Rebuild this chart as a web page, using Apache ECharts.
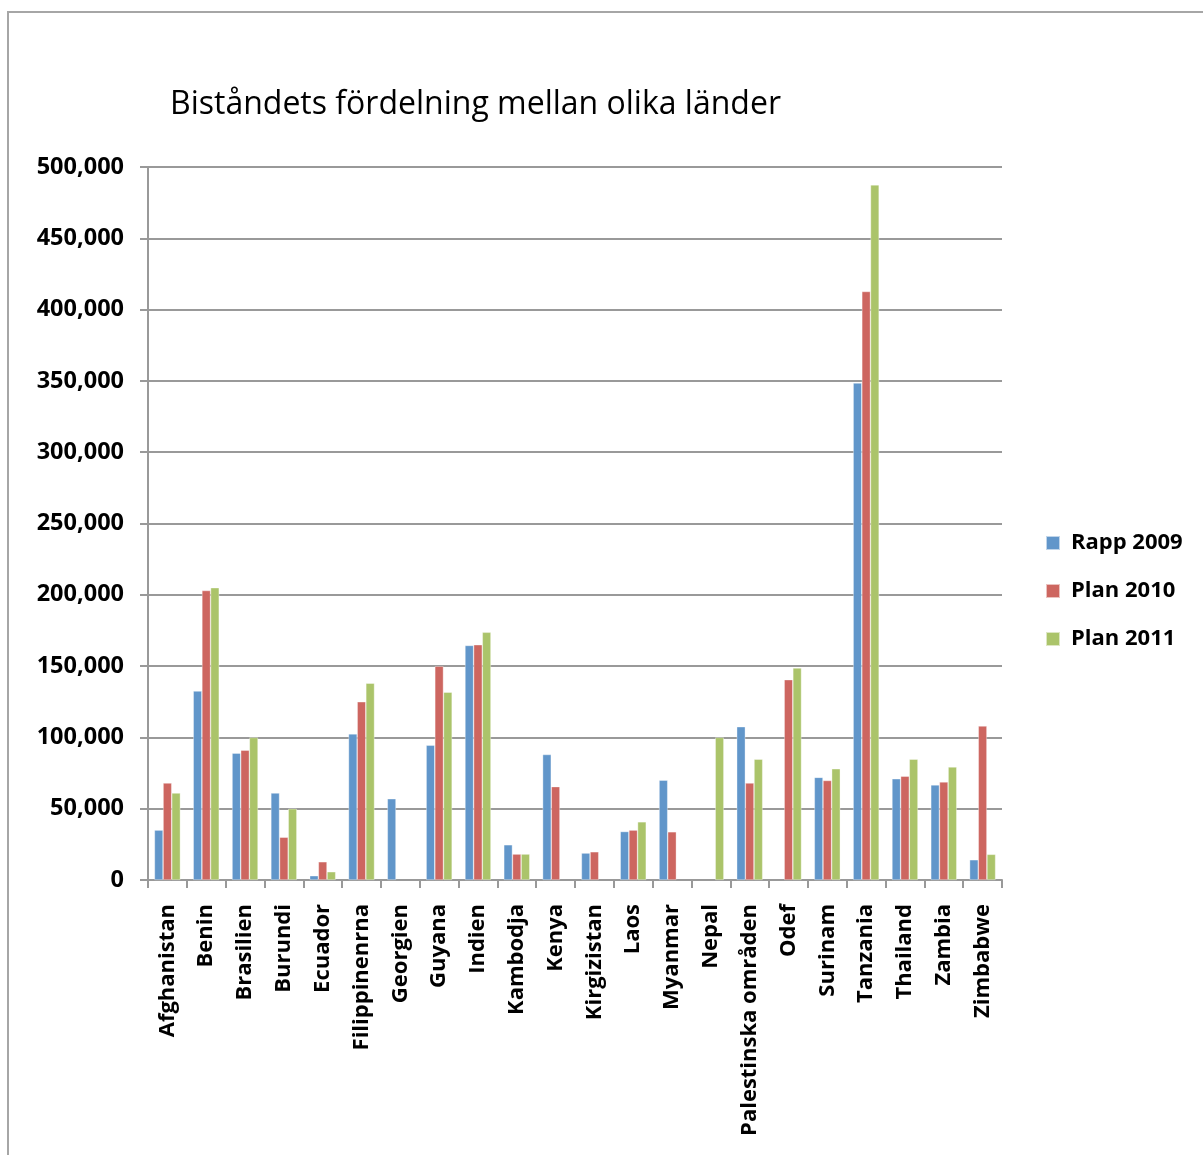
<!DOCTYPE html>
<html><head><meta charset="utf-8">
<script src="https://cdn.jsdelivr.net/npm/echarts@6/dist/echarts.min.js"></script>
<style>html,body{margin:0;padding:0;background:#fff}#c{width:1203px;height:1155px}
#frame{position:absolute;left:7px;top:11px;width:1300px;height:1300px;border:2px solid #a6a6a6;box-sizing:border-box;pointer-events:none}</style>
</head><body><div id="c"></div><div id="frame"></div>
<script>
const categories = ["Afghanistan","Benin","Brasilien","Burundi","Ecuador","Filippinenrna","Georgien","Guyana","Indien","Kambodja","Kenya","Kirgizistan","Laos","Myanmar","Nepal","Palestinska områden","Odef","Surinam","Tanzania","Thailand","Zambia","Zimbabwe"];
const rapp2009 = [35000,132500,89000,61000,3000,102500,57000,94500,164500,24700,88000,18900,34000,70000,null,107500,null,72000,348500,71000,66700,14200];
const plan2010 = [68000,203000,91000,30000,12800,125000,null,150000,165000,18200,65500,19800,35000,33800,null,68000,140500,69800,412700,72800,68800,108000];
const plan2011 = [61000,205000,100000,50000,5800,138000,null,131700,173700,18200,null,null,40800,null,100000,84700,148700,78000,487500,84700,79300,18000];
const yTicks = {min:0, max:500000, interval:50000};

const font = '"Open Sans", Lato, sans-serif';
const chart = echarts.init(document.getElementById('c'));
const bar = (name, data, color) => ({
  name, type:'bar', data, barGap:'0%', barCategoryGap:'33%',
  itemStyle:{color, borderColor:'rgba(255,255,255,0.6)', borderWidth:0.6}
});
chart.setOption({
  animation:false,
  title:{text:'Biståndets fördelning mellan olika länder', left:165, top:84,
    textStyle:{fontFamily:font, fontWeight:'normal', fontSize:32, color:'#000'}},
  legend:{orient:'vertical', left:1040, top:527, itemGap:26, itemWidth:14, itemHeight:14,
    icon:'rect', textStyle:{fontFamily:font, fontWeight:'bold', fontSize:22, color:'#000', padding:[0,0,0,6]}},
  grid:{left:148, right:201, top:167, bottom:275, containLabel:false},
  xAxis:{type:'category', data:categories,
    axisLine:{lineStyle:{color:'#999', width:2}},
    axisTick:{show:true, alignWithLabel:false, length:8, lineStyle:{color:'#999', width:2}},
    axisLabel:{rotate:90, interval:0, margin:24, fontFamily:font, fontWeight:'bold', fontSize:22, color:'#000'}},
  yAxis:{type:'value', min:yTicks.min, max:yTicks.max, interval:yTicks.interval,
    axisLine:{show:true, lineStyle:{color:'#999', width:2}},
    axisTick:{show:true, length:8, lineStyle:{color:'#999', width:2}},
    splitLine:{lineStyle:{color:'#999', width:2}},
    axisLabel:{margin:24, fontFamily:font, fontWeight:'bold', fontSize:23.5, color:'#000',
      formatter:v=>v.toLocaleString('en-US')}},
  series:[bar('Rapp 2009', rapp2009, '#6196CA'), bar('Plan 2010', plan2010, '#CD6660'), bar('Plan 2011', plan2011, '#ABC46A')]
});
</script></body></html>
